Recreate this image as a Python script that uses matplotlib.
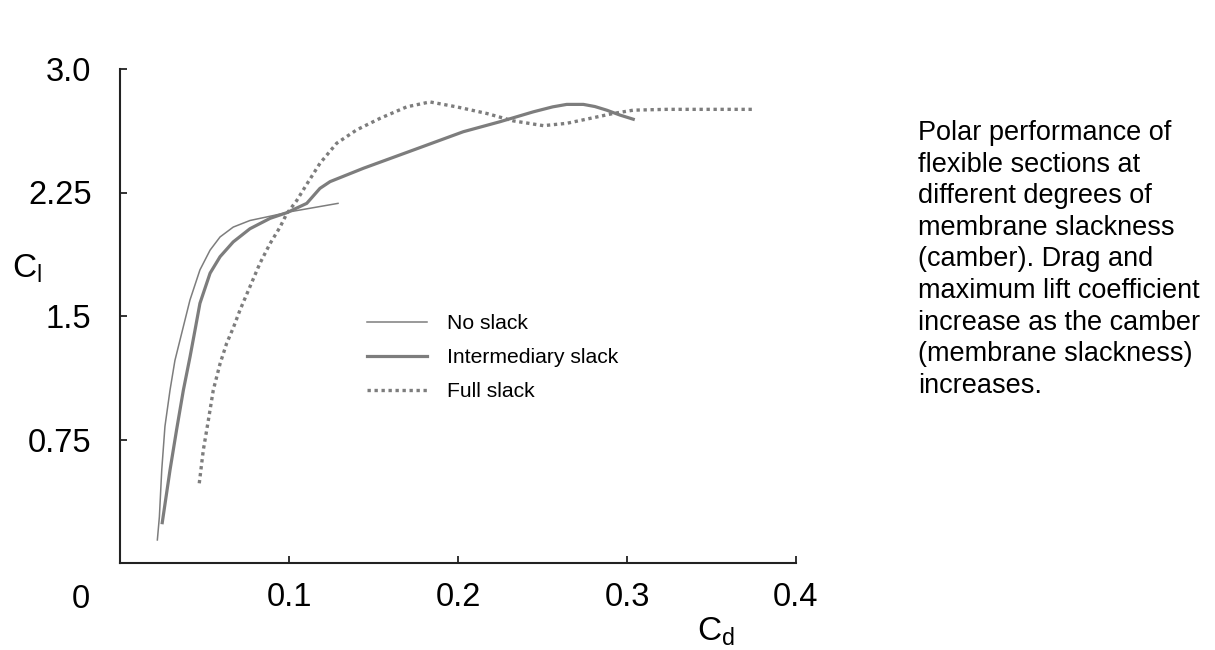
# Polar curves of flexible sections at different membrane slackness
import matplotlib
matplotlib.use("Agg")
import matplotlib.pyplot as plt

plt.rcParams['font.family'] = ['Liberation Sans', 'DejaVu Sans']
plt.rcParams['mathtext.fontset'] = 'custom'
plt.rcParams['mathtext.rm'] = 'Liberation Sans'

# data (Cd, Cl)
no_slack_cd = [0.0221, 0.0233, 0.0247, 0.0266, 0.0296, 0.0325, 0.0355, 0.0414,
               0.0473, 0.0533, 0.0592, 0.0670, 0.0769, 0.0907, 0.1006, 0.1290]
no_slack_cl = [0.14, 0.28, 0.565, 0.83, 1.05, 1.23, 1.354, 1.597,
               1.78, 1.90, 1.98, 2.04, 2.08, 2.11, 2.133, 2.184]

inter_cd = [0.0250, 0.0296, 0.0335, 0.0375, 0.0414, 0.0444, 0.0473, 0.0533,
            0.0592, 0.0670, 0.0769, 0.0888, 0.0986, 0.1105, 0.1183, 0.1243,
            0.1440, 0.1736, 0.2031, 0.2249, 0.2446, 0.2560, 0.2643, 0.2742,
            0.2810, 0.2880, 0.2959, 0.3037]
inter_cl = [0.245, 0.565, 0.81, 1.05, 1.25, 1.415, 1.577, 1.76,
            1.86, 1.95, 2.03, 2.093, 2.127, 2.184, 2.275, 2.316,
            2.397, 2.508, 2.619, 2.68, 2.74, 2.77, 2.785, 2.785,
            2.772, 2.75, 2.72, 2.695]

full_cd = [0.0469, 0.0493, 0.0523, 0.0552, 0.0592, 0.0631, 0.0671, 0.0710,
           0.0769, 0.0828, 0.0888, 0.0947, 0.0986, 0.1045, 0.1105, 0.1183,
           0.1282, 0.1400, 0.1538, 0.1696, 0.1834, 0.1992, 0.2170, 0.2327,
           0.2505, 0.2643, 0.2800, 0.2919, 0.3037, 0.3235, 0.3747]
full_cl = [0.484, 0.686, 0.868, 1.05, 1.21, 1.334, 1.43, 1.536,
           1.678, 1.82, 1.94, 2.04, 2.12, 2.20, 2.30, 2.427,
           2.549, 2.63, 2.70, 2.77, 2.80, 2.77, 2.73, 2.685,
           2.656, 2.67, 2.704, 2.73, 2.75, 2.755, 2.755]

x_ticks = [0.1, 0.2, 0.3, 0.4]
y_ticks = [0.75, 1.5, 2.25, 3.0]
y_tick_labels = ['0.75', '1.5', '2.25', '3.0']

caption = ("Polar performance of\nflexible sections at\ndifferent degrees of\n"
           "membrane slackness\n(camber). Drag and\nmaximum lift coefficient\n"
           "increase as the camber\n(membrane slackness)\nincreases.")

gray = '#7d7d7d'
W, H = 1215, 650

fig = plt.figure(figsize=(W / 100, H / 100), dpi=100)
ax = fig.add_axes([120 / W, 1 - 563 / H, 676 / W, 494 / H])

ax.plot(no_slack_cd, no_slack_cl, color=gray, lw=1.1, label='No slack')
ax.plot(inter_cd, inter_cl, color=gray, lw=2.3, label='Intermediary slack')
ax.plot(full_cd, full_cl, color=gray, lw=2.4, linestyle=(0, (1, 1.1)),
        label='Full slack')

ax.set_xlim(0, 0.4)
ax.set_ylim(0, 3.0)
ax.spines['top'].set_visible(False)
ax.spines['right'].set_visible(False)
for s in ['left', 'bottom']:
    ax.spines[s].set_linewidth(1.5)
    ax.spines[s].set_color('#222222')

ax.set_xticks(x_ticks)
ax.set_xticklabels([str(t) for t in x_ticks])
ax.set_yticks(y_ticks)
ax.set_yticklabels(y_tick_labels)
ax.tick_params(direction='in', length=5, width=1.3, color='#222222',
               labelsize=23.5)
ax.tick_params(axis='x', pad=13.5)
ax.tick_params(axis='y', pad=20.5)

# shared origin label and axis names
fig.text(81 / W, 1 - 608 / H, '0', fontsize=23.5, ha='center', va='baseline')
fig.text(12 / W, 1 - 277 / H, r'C$_\mathrm{l}$', fontsize=24, ha='left',
         va='baseline')
fig.text(697 / W, 1 - 640 / H, r'C$_\mathrm{d}$', fontsize=24, ha='left',
         va='baseline')

ax.legend(loc='upper left', bbox_to_anchor=(0.365, 0.504), frameon=False,
          fontsize=15.2, handlelength=2.86, handletextpad=0.92,
          labelspacing=0.72, borderpad=0, borderaxespad=0)

fig.text(918 / W, 1 - 120 / H, caption, fontsize=19.5, va='top', ha='left',
         linespacing=1.28)

fig.savefig('out.png', dpi=100)
